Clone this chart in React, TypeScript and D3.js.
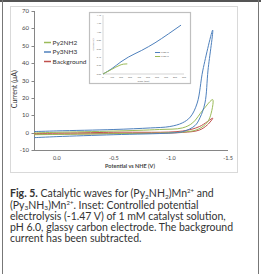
import React from "react";
import * as d3 from "d3";

// main CV curves: [potential (V vs NHE), current (uA)]
const py3Outer: [number, number][] = [
  [0.2, 0.6], [0.0, 1.0], [-0.5, 1.8], [-0.82, 2.7], [-0.99, 3.5], [-1.1, 5.6],
  [-1.17, 9], [-1.23, 17], [-1.28, 36], [-1.366, 59],
];
const py3Inner: [number, number][] = [
  [-1.366, 59], [-1.325, 36], [-1.298, 17], [-1.254, 8.5], [-1.21, 4], [-1.105, 0.6],
  [-1.0, -0.2], [-0.5, -1.2], [0.0, -2.3], [0.2, -2.9],
];
const py2Outer: [number, number][] = [
  [0.2, -0.2], [0.0, 0.2], [-0.5, 0.9], [-0.9, 1.8], [-1.1, 2.7], [-1.19, 5.6],
  [-1.28, 13], [-1.366, 19],
];
const py2Inner: [number, number][] = [
  [-1.366, 19], [-1.34, 8.5], [-1.298, 4.5], [-1.22, 1.5], [-1.1, 0.3], [-0.5, -0.6],
  [0.2, -1.2],
];
const bgOuter: [number, number][] = [
  [0.2, -0.5], [-0.5, 0.2], [-1.1, 0.9], [-1.25, 3.5], [-1.366, 8.3],
];
const bgInner: [number, number][] = [
  [-1.366, 8.3], [-1.32, 4.5], [-1.25, 1.5], [-1.1, 0.1], [-0.5, -0.5], [0.2, -1.0],
];

const yTicks = [-10, 0, 10, 20, 30, 40, 50, 60, 70];
const xTicks = [0.0, -0.5, -1.0, -1.5];

// inset: [time (min), charge (C)]
const insetPy3: [number, number][] = [
  [0, 0], [100, 0.13], [200, 0.29], [281, 0.4], [430, 0.56], [578, 0.74], [726, 0.95], [867, 1.16],
];
const insetPy2: [number, number][] = [
  [0, 0], [97, 0.11], [189, 0.21], [230, 0.235], [270, 0.24],
];
const insetXTicks = [0, 100, 200, 300, 400, 500, 600, 700, 800, 900];
const insetYTicks = [0, 0.2, 0.4, 0.6, 0.8, 1.0, 1.2, 1.4];

const BLUE = "#4f81bd";
const GREEN = "#9bbb59";
const RED = "#c0504d";

const legend = [
  { name: "Py2NH2", color: GREEN },
  { name: "Py3NH3", color: BLUE },
  { name: "Background", color: RED },
];

export default function App() {
  const x = d3.scaleLinear().domain([0.2, -1.5]).range([34, 228]);
  const y = d3.scaleLinear().domain([-10, 70]).range([150, 11]);
  const line = d3
    .line<[number, number]>()
    .x((d) => x(d[0]))
    .y((d) => y(d[1]))
    .curve(d3.curveCatmullRom);

  const ix = d3.scaleLinear().domain([0, 900]).range([103, 184]);
  const iy = d3.scaleLinear().domain([0, 1.4]).range([74, 15]);
  const iline = d3
    .line<[number, number]>()
    .x((d) => ix(d[0]))
    .y((d) => iy(d[1]))
    .curve(d3.curveMonotoneX);

  const series = [
    { outer: bgOuter, inner: bgInner, color: RED },
    { outer: py2Outer, inner: py2Inner, color: GREEN },
    { outer: py3Outer, inner: py3Inner, color: BLUE },
  ];

  const font = "Lato, 'Open Sans', sans-serif";
  const cap = { fontFamily: font, fontSize: 10.5, fill: "#333" };

  return (
    <div style={{ position: "absolute", left: 0, top: 0 }}>
      <svg width={261} height={274} style={{ display: "block", background: "#fff" }}>
        {/* page frame */}
        <rect x={0} y={0} width={261} height={2} fill="#555" />
        <line x1={2.5} x2={2.5} y1={0} y2={274} stroke="#777" />
        <line x1={258.5} x2={258.5} y1={0} y2={274} stroke="#777" />

        {/* chart frame */}
        <rect x={10.5} y={6.5} width={227} height={166} fill="#fff" stroke="#d9d9d9" />

        {/* axes */}
        <line x1={34.5} x2={34.5} y1={y(70)} y2={y(-10)} stroke="#868686" />
        <line x1={34} x2={228} y1={150.5} y2={150.5} stroke="#868686" />
        {yTicks.map((t) => (
          <g key={t}>
            <line x1={31.5} x2={34.5} y1={Math.round(y(t)) + 0.5} y2={Math.round(y(t)) + 0.5} stroke="#868686" />
            <text x={29} y={y(t) + 2} textAnchor="end" fontFamily={font} fontSize={6} fill="#444">
              {t}
            </text>
          </g>
        ))}
        {xTicks.map((t) => (
          <text key={t} x={x(t)} y={160} textAnchor="middle" fontFamily={font} fontSize={5.5} fill="#444">
            {d3.format(".1f")(t).replace("−", "-")}
          </text>
        ))}
        <text x={130} y={167.5} textAnchor="middle" fontFamily={font} fontSize={5.5} fontWeight="bold" fill="#444">
          Potential vs NHE (V)
        </text>
        <text
          transform={`translate(17,${y(25)}) rotate(-90)`}
          textAnchor="middle"
          fontFamily={font}
          fontSize={7}
          fill="#333"
        >
          Current (μA)
        </text>

        {/* CV loops */}
        {series.map((s, i) => (
          <path
            key={i}
            d={line(s.outer.concat(s.inner.slice(1))) || ""}
            fill="none"
            stroke={s.color}
            strokeWidth={1}
          />
        ))}

        {/* legend */}
        {legend.map((l, i) => (
          <g key={l.name} transform={`translate(44,${42.5 + i * 9.5})`}>
            <line x1={0} x2={7} y1={0} y2={0} stroke={l.color} strokeWidth={1.5} />
            <text x={8.5} y={2.3} fontFamily={font} fontSize={6.5} fill="#333">
              {l.name}
            </text>
          </g>
        ))}

        {/* inset */}
        <rect x={89.5} y={12.5} width={101} height={71} fill="#fff" stroke="#bfbfbf" strokeWidth={1.2} />
        <line x1={ix(0)} x2={ix(0)} y1={iy(1.4)} y2={iy(0)} stroke="#aaa" strokeWidth={0.5} />
        <line x1={ix(0)} x2={ix(900)} y1={iy(0)} y2={iy(0)} stroke="#aaa" strokeWidth={0.5} />
        {insetYTicks.map((t) => (
          <text key={t} x={ix(0) - 2} y={iy(t) + 0.8} textAnchor="end" fontFamily={font} fontSize={2.2} fill="#666">
            {d3.format(".2f")(t)}
          </text>
        ))}
        {insetXTicks.map((t) => (
          <text key={t} x={ix(t)} y={iy(0) + 3.5} textAnchor="middle" fontFamily={font} fontSize={2.2} fill="#666">
            {t}
          </text>
        ))}
        <text x={(ix(0) + ix(900)) / 2} y={81.5} textAnchor="middle" fontFamily={font} fontSize={2.6} fill="#666">
          Time (min)
        </text>
        <text
          transform={`translate(94,${iy(0.7)}) rotate(-90)`}
          textAnchor="middle"
          fontFamily={font}
          fontSize={2.6}
          fill="#666"
        >
          Charge (C)
        </text>
        <path d={iline(insetPy3) || ""} fill="none" stroke={BLUE} strokeWidth={1} />
        <path d={iline(insetPy2) || ""} fill="none" stroke={GREEN} strokeWidth={1} />
        <line x1={155} x2={160} y1={52.5} y2={52.5} stroke={BLUE} strokeWidth={1} />
        <text x={160.5} y={53.3} fontFamily={font} fontSize={2.2} fill="#666">Py3NH3</text>
        <line x1={155} x2={160} y1={56.5} y2={56.5} stroke={GREEN} strokeWidth={1} />
        <text x={160.5} y={57.3} fontFamily={font} fontSize={2.2} fill="#666">Py2NH2</text>

        {/* caption */}
        <text x={10} y={197} {...cap}>
          <tspan fontWeight="bold">Fig. 5.</tspan> Catalytic waves for (Py
          <tspan fontSize={6.5} dy={1.5}>2</tspan>
          <tspan dy={-1.5}>NH</tspan>
          <tspan fontSize={6.5} dy={1.5}>2</tspan>
          <tspan dy={-1.5}>)Mn</tspan>
          <tspan fontSize={6} dy={-4}>2+</tspan>
          <tspan dy={4}> and</tspan>
        </text>
        <text x={10} y={208.5} {...cap}>
          (Py
          <tspan fontSize={6.5} dy={1.5}>3</tspan>
          <tspan dy={-1.5}>NH</tspan>
          <tspan fontSize={6.5} dy={1.5}>3</tspan>
          <tspan dy={-1.5}>)Mn</tspan>
          <tspan fontSize={6} dy={-4}>2+</tspan>
          <tspan dy={4}>. Inset: Controlled potential</tspan>
        </text>
        <text x={10} y={220} {...cap}>electrolysis (-1.47 V) of 1 mM catalyst solution,</text>
        <text x={10} y={231} {...cap}>pH 6.0, glassy carbon electrode. The background</text>
        <text x={10} y={242} {...cap}>current has been subtracted.</text>
      </svg>
    </div>
  );
}
